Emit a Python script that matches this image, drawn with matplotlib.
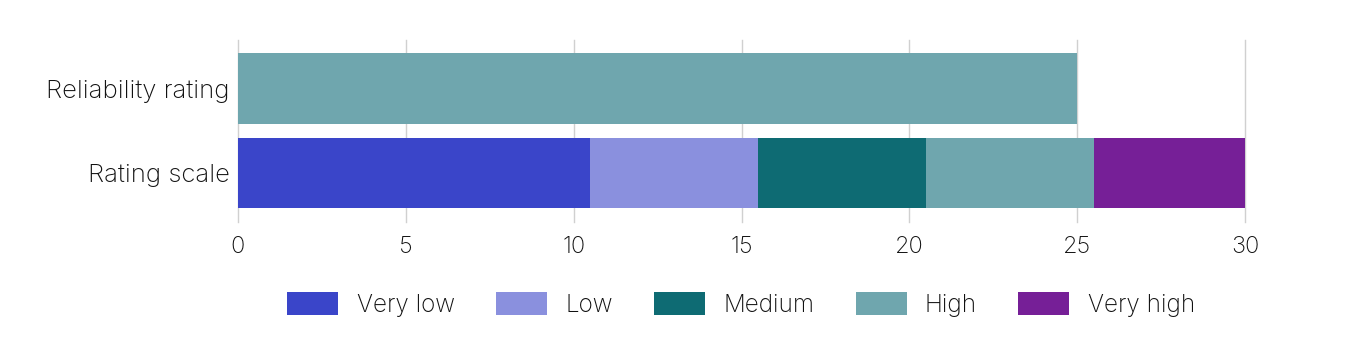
import matplotlib.pyplot as plt

plt.rcParams['font.family'] = ['Inter', 'DejaVu Sans']

# Data
rows = ['Rating scale', 'Reliability rating']
levels = ['Very low', 'Low', 'Medium', 'High', 'Very high']
scale_widths = [10.5, 5, 5, 5, 4.5]
reliability_value = 25
reliability_level = 'High'

colors = {
    'Very low': '#3a45c9',
    'Low': '#8a90de',
    'Medium': '#0e6b73',
    'High': '#6fa6ae',
    'Very high': '#761f97',
}

fig = plt.figure(figsize=(13.6, 3.58), dpi=100)
ax = fig.add_axes([0.175, 0.380, 0.7405, 0.508])

# Rating scale stacked bar
left = 0
for lvl, w in zip(levels, scale_widths):
    ax.barh(0, w, left=left, height=0.84, color=colors[lvl], label=lvl, zorder=2)
    left += w

# Reliability rating bar
ax.barh(1, reliability_value, height=0.84, color=colors[reliability_level], zorder=2)

ax.set_xlim(0, 30)
ax.set_ylim(-0.58, 1.574)
ax.set_xticks([0, 5, 10, 15, 20, 25, 30])
ax.set_yticks([0, 1])
ax.set_yticklabels(rows, fontsize=18.5, fontweight='light')
for lbl in ax.get_xticklabels():
    lbl.set_fontweight('light')
ax.grid(axis='x', color='#d0d0d0', linewidth=1, zorder=0)
for line in ax.get_xgridlines():
    line.set_clip_on(False)
for s in ax.spines.values():
    s.set_visible(False)
ax.tick_params(axis='x', length=0, labelsize=17, colors='#111111', pad=10)
ax.tick_params(axis='y', length=0, colors='#111111', pad=6)

leg = fig.legend(loc='center', bbox_to_anchor=(0.545, 0.15), ncol=5, frameon=False,
                 prop={'size': 17.5, 'weight': 'light'}, handlelength=2.1,
                 handleheight=1.1, columnspacing=1.7, handletextpad=0.75,
                 labelcolor='#111111')

fig.savefig('out.png', dpi=100)
